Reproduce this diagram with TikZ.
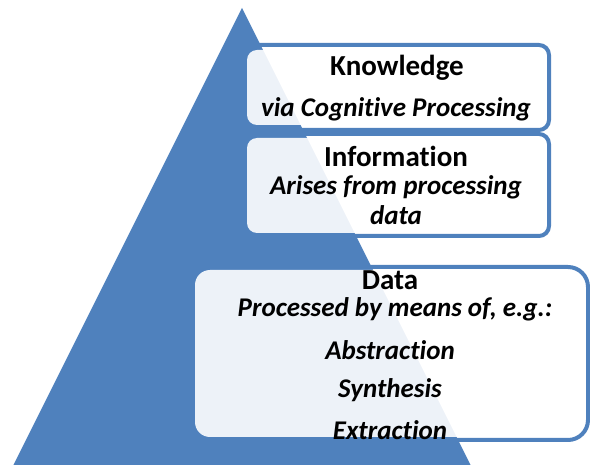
\documentclass[tikz,border=0pt]{standalone}
\usepackage{fontspec}
\setmainfont{Carlito}[Ligatures={NoCommon}]
\definecolor{pyrblue}{HTML}{4F81BD}

\begin{document}
\begin{tikzpicture}[x=1pt,y=-1pt]
	\tikzstyle{box_fill} = [fill=white, fill opacity=0.9]
	\tikzstyle{box_border} = [draw=pyrblue, line width=4pt]
	\tikzstyle{title_text} = [font=\fontsize{29}{34}\selectfont\bfseries, inner sep=0pt]
	\tikzstyle{item_text} = [font=\fontsize{27}{32}\selectfont\bfseries\itshape, inner sep=0pt]

	\useasboundingbox (0,0) rectangle (590,465);

%------------------------------------------------------------
	\fill[pyrblue] (242,8) -- (471,466) -- (13,466) -- cycle;

%------------------------------------------------------------
	\draw[box_border, rounded corners=10pt] (240,45) rectangle (549,130);
	\fill[box_fill, rounded corners=10pt] (247,50) rectangle (545,125);

	\node[title_text] (knowledge) at (397,68) {Knowledge};
	\node[item_text] (cognitive) at (396,109) {via Cognitive Processing};

%------------------------------------------------------------
	\draw[box_border, rounded corners=10pt] (240,134) rectangle (549,236);
	\fill[box_fill, rounded corners=10pt] (247,138) rectangle (545,233);

	\node[title_text] (information) at (396,156) {Information};
	\node[item_text] (arises) at (396,187) {Arises from processing};
	\node[item_text] (arisesdata) at (396,215) {data};

%------------------------------------------------------------
	\draw[box_border, rounded corners=20pt] (185,267) rectangle (588,440);
	\fill[box_fill, rounded corners=15pt] (195,270) rectangle (583,437);

	\node[title_text] (data) at (390,280) {Data};
	\node[item_text] (processed) at (395,309) {Processed by means of, e.g.:};
	\node[item_text] (abstraction) at (390,350) {Abstraction};
	\node[item_text] (synthesis) at (390,390) {Synthesis};
	\node[item_text] (extraction) at (390,430) {Extraction};

	\end{tikzpicture}
\end{document}
